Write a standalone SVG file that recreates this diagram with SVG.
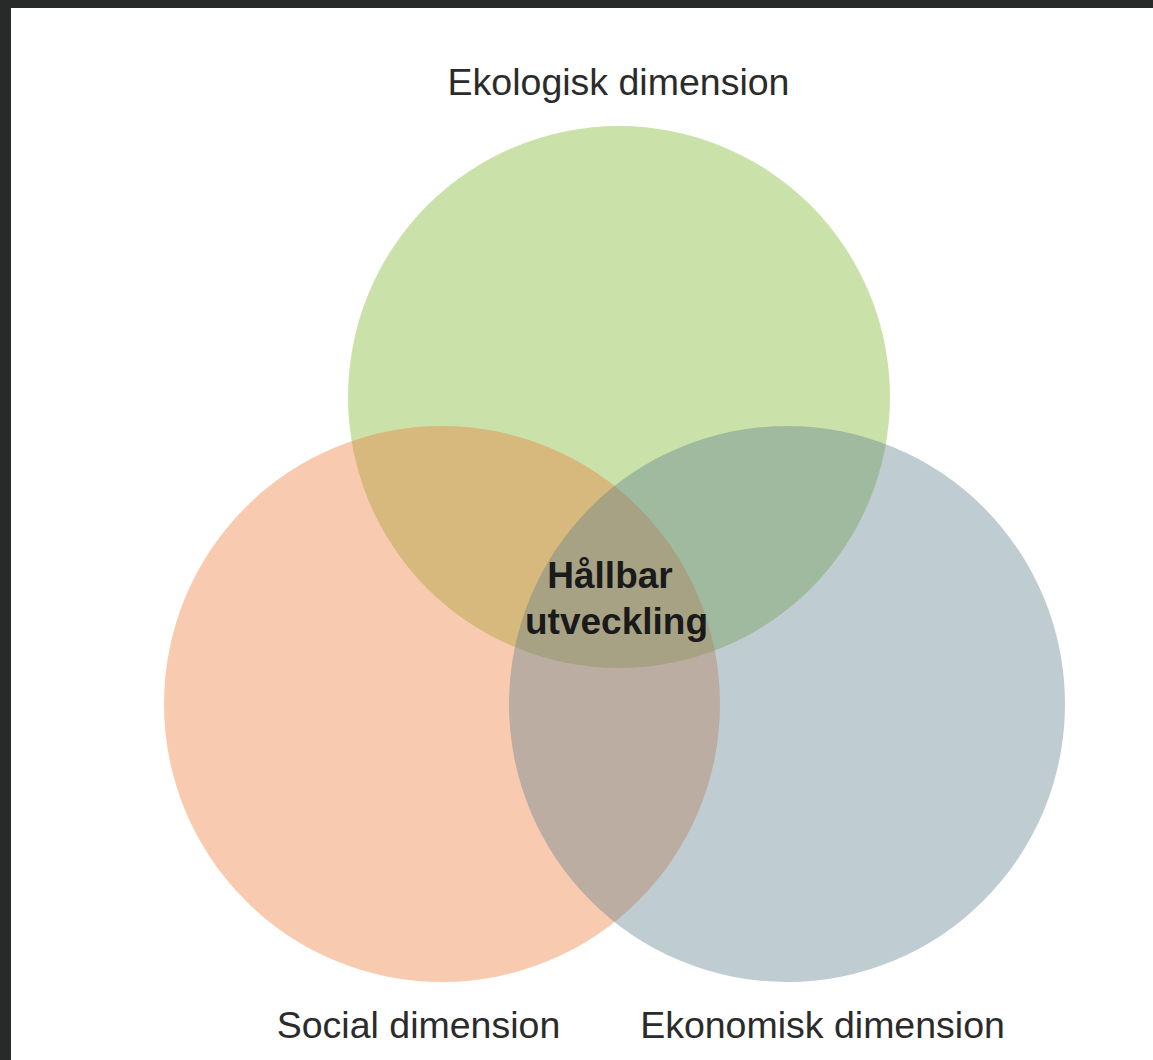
<svg xmlns="http://www.w3.org/2000/svg" width="1153" height="1060" viewBox="0 0 1153 1060">
  <style>
    .lbl { font-family: "Liberation Sans", Arial, sans-serif; font-size: 37.5px; fill: #2b2b2b; text-anchor: middle; }
    .ctr { font-family: "Liberation Sans", Arial, sans-serif; font-size: 37px; font-weight: bold; fill: #1a1a1a; text-anchor: middle; }
    .c { fill-opacity: 0.4; }
  </style>
  <rect x="0" y="0" width="1153" height="1060" fill="#282a29"/>
  <rect x="11" y="8" width="1142" height="1052" fill="#ffffff"/>
  <g id="ekologisk">
    <circle class="c" cx="619" cy="397" r="271" fill="#7ab62a"/>
    <text class="lbl" x="618.5" y="95">Ekologisk dimension</text>
  </g>
  <g id="social">
    <circle class="c" cx="442" cy="704" r="278" fill="#ed7d39"/>
    <text class="lbl" x="418.5" y="1038">Social dimension</text>
  </g>
  <g id="ekonomisk">
    <circle class="c" cx="787" cy="704" r="278" fill="#5f7f8f"/>
    <text class="lbl" x="822.5" y="1038">Ekonomisk dimension</text>
  </g>
  <g id="hallbar">
    <text class="ctr" x="610" y="588">Hållbar</text>
    <text class="ctr" x="616.5" y="634">utveckling</text>
  </g>
  <g id="connectors"></g>
</svg>
